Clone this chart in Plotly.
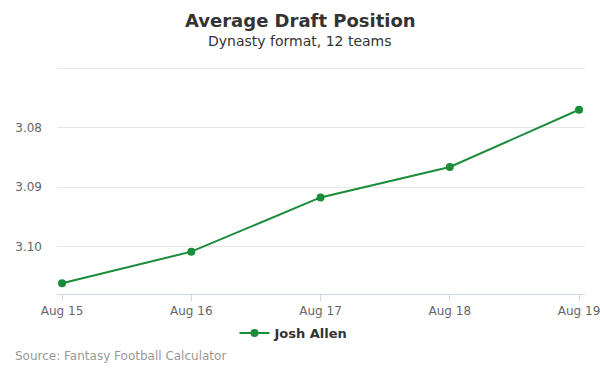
import plotly.graph_objects as go

dates = ["Aug 15", "Aug 16", "Aug 17", "Aug 18", "Aug 19"]
adp = [3.1061, 3.1008, 3.0917, 3.0866, 3.0770]
y_ticks = [3.07, 3.08, 3.09, 3.10]
y_tick_labels = ["", "3.08", "3.09", "3.10"]

FONT = "DejaVu Sans, Open Sans, sans-serif"
GREEN = "#1b8c3a"

W, H = 600, 375
ML, MR, MT, MB = 57, 15, 66, 81
PW, PH = W - ML - MR, H - MT - MB


def px_x(x):
    return (x - ML) / PW


def px_y(y):
    return (H - MB - y) / PH


x_idx = list(range(len(dates)))

fig = go.Figure()
fig.add_trace(go.Scatter(
    x=x_idx, y=adp, mode="lines+markers", name="Josh Allen",
    line=dict(color=GREEN, width=2),
    marker=dict(color=GREEN, size=8),
))

fig.update_layout(
    width=W, height=H,
    margin=dict(l=ML, r=MR, t=MT, b=MB),
    paper_bgcolor="white", plot_bgcolor="white",
    font=dict(family=FONT, color="#666666", size=12),
    showlegend=True,
    legend=dict(orientation="h", x=px_x(294), xanchor="center", y=px_y(333), yanchor="middle",
                font=dict(family=FONT, size=13, color="#333333", weight="bold"),
                itemwidth=30),
    xaxis=dict(
        range=[-0.039, 4.046], tickmode="array", tickvals=x_idx, ticktext=dates,
        showgrid=False, zeroline=False, showline=True, linecolor="#ccd6eb", linewidth=1,
        ticks="outside", ticklen=6, tickcolor="#ccd6eb", ticklabeloverflow="allow",
        tickfont=dict(size=12, color="#666666"), automargin=False,
    ),
    yaxis=dict(
        range=[3.1079, 3.06966], tickmode="array", tickvals=y_ticks, ticktext=y_tick_labels,
        showgrid=True, gridcolor="#e6e6e6", zeroline=False, showline=False,
        tickfont=dict(size=12, color="#666666"), ticks="", ticklabelstandoff=14,
        automargin=False,
    ),
    annotations=[
        dict(text="<b>Average Draft Position</b>", x=px_x(300), xref="paper", y=px_y(20), yref="paper",
             yanchor="middle", showarrow=False, font=dict(size=18, color="#333333", family=FONT)),
        dict(text="Dynasty format, 12 teams", x=px_x(300), xref="paper", y=px_y(41), yref="paper",
             yanchor="middle", showarrow=False, font=dict(size=14, color="#333333", family=FONT)),
        dict(text="Source: Fantasy Football Calculator", x=px_x(13), xref="paper", y=px_y(356),
             yref="paper", xanchor="left", yanchor="middle", showarrow=False,
             font=dict(size=12, color="#999999", family=FONT)),
    ],
)

fig.write_html("out.html", config={"displayModeBar": False},
               post_script="document.body.style.margin='0';")
